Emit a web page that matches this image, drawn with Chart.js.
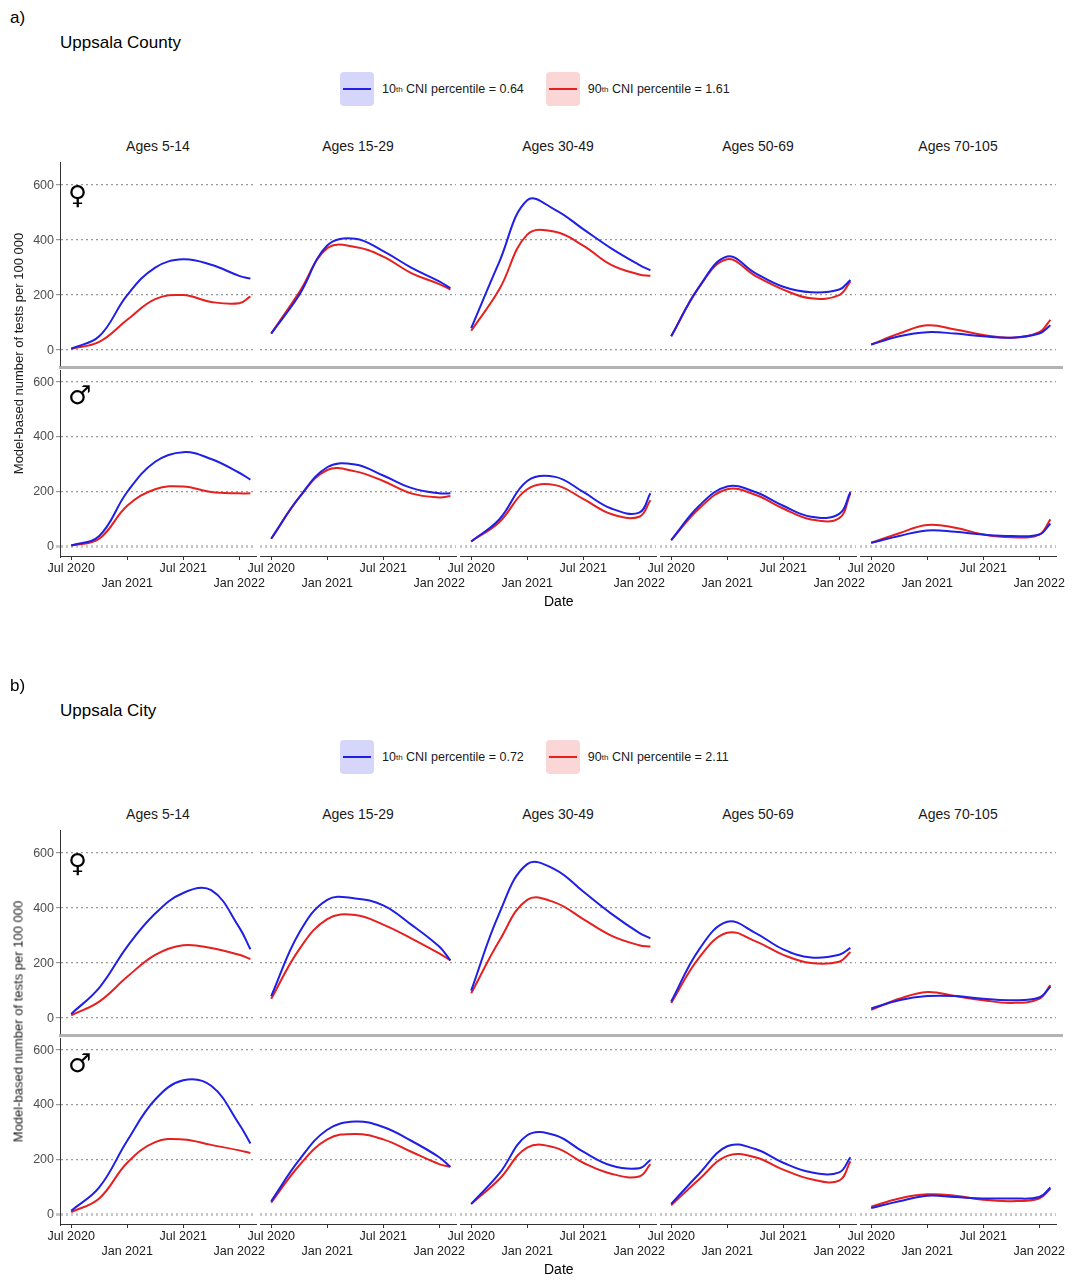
<!DOCTYPE html>
<html><head><meta charset="utf-8">
<script src="https://cdn.jsdelivr.net/npm/chart.js@4.4.0/dist/chart.umd.min.js"></script>
<style>
  body { margin:0; background:#fff; font-family:"Liberation Sans", Arial, sans-serif; }
  #root { position:relative; width:1072px; height:1280px; }
  .abs { position:absolute; white-space:nowrap; }
  .strip { font-size:14px; color:#1a1a1a; text-align:center; width:196px; }
  .leg { font-size:12.5px; color:#1a1a1a; display:flex; align-items:center; }
  .key { width:34px; height:34px; border-radius:4px; position:relative; margin-right:8px; }
  .key i { position:absolute; left:3px; right:3px; top:16px; height:2px; }
  .sep { background:#b3b3b3; height:3px; }
  .ytitle { font-size:13px; color:#1a1a1a; transform:rotate(-90deg); transform-origin:center; }
  canvas { pointer-events:none; }
</style></head>
<body><div id="root"></div>
<script>
(function () {
  'use strict';

  /* ── Data ─────────────────────────────────────────────────────────────── */
  const MONTHS = [0, 3, 6, 9, 12, 15, 18, 19.2];          // months since Jul 2020
  const X_TICKS = [0, 6, 12, 18];
  const X_LABELS = ['Jul 2020', 'Jan 2021', 'Jul 2021', 'Jan 2022'];
  const Y_TICKS = [0, 200, 400, 600];
  const AGES = ['Ages 5-14', 'Ages 15-29', 'Ages 30-49', 'Ages 50-69', 'Ages 70-105'];

  // Panel a – Uppsala County
  const countyFemaleBlue = [
    [5, 50, 200, 300, 330, 310, 270, 260],
    [60, 200, 380, 405, 360, 300, 250, 225],
    [80, 320, 545, 510, 440, 370, 310, 290],
    [50, 230, 340, 280, 230, 210, 220, 255],
    [20, 50, 65, 60, 50, 45, 60, 90]
  ];
  const countyFemaleRed = [
    [5, 30, 110, 185, 200, 175, 170, 195],
    [60, 210, 370, 375, 340, 280, 240, 220],
    [70, 220, 420, 430, 380, 310, 275, 270],
    [50, 230, 330, 270, 220, 188, 200, 250],
    [20, 60, 90, 75, 55, 45, 65, 110]
  ];
  const countyMaleBlue = [
    [5, 40, 200, 310, 345, 320, 270, 245],
    [30, 180, 290, 300, 260, 215, 195, 195],
    [20, 100, 240, 255, 200, 140, 125, 195],
    [25, 150, 220, 200, 150, 110, 120, 200],
    [15, 40, 60, 55, 45, 40, 45, 85]
  ];
  const countyMaleRed = [
    [5, 30, 150, 210, 220, 200, 195, 195],
    [30, 180, 280, 275, 240, 195, 180, 185],
    [20, 90, 210, 225, 175, 120, 110, 170],
    [25, 140, 210, 190, 140, 100, 105, 195],
    [15, 50, 80, 70, 45, 35, 45, 100]
  ];

  // Panel b – Uppsala City
  const cityFemaleBlue = [
    [15, 110, 260, 380, 455, 465, 330, 250],
    [80, 310, 430, 435, 410, 340, 260, 210],
    [100, 380, 560, 540, 460, 380, 310, 290],
    [60, 250, 350, 310, 250, 220, 230, 255],
    [35, 65, 80, 80, 70, 65, 75, 115]
  ];
  const cityFemaleRed = [
    [10, 60, 150, 230, 265, 255, 230, 215],
    [70, 250, 360, 375, 340, 290, 235, 210],
    [90, 280, 430, 420, 360, 300, 265, 260],
    [55, 220, 310, 280, 230, 200, 205, 240],
    [30, 70, 95, 80, 65, 55, 70, 120]
  ];
  const cityMaleBlue = [
    [15, 100, 270, 420, 490, 470, 330, 260],
    [50, 200, 310, 340, 320, 270, 210, 175],
    [40, 150, 290, 290, 230, 180, 170, 200],
    [40, 150, 250, 240, 190, 155, 155, 210],
    [25, 50, 70, 65, 60, 60, 65, 100]
  ];
  const cityMaleRed = [
    [10, 60, 190, 265, 275, 255, 235, 225],
    [45, 180, 275, 295, 275, 230, 185, 175],
    [40, 130, 245, 245, 190, 150, 140, 185],
    [35, 130, 215, 210, 165, 130, 125, 195],
    [30, 60, 75, 70, 55, 50, 60, 95]
  ];

  const BLUE = '#1f1fe6', RED = '#e61f1f';
  const PAD = 34, PADV = 12;   // room for tick labels that overhang the plot area
  const root = document.getElementById('root');

  function el(cls, x, y, html, extra) {
    const d = document.createElement('div');
    d.className = 'abs ' + cls;
    d.style.left = x + 'px'; d.style.top = y + 'px';
    d.innerHTML = html;
    if (extra) Object.assign(d.style, extra);
    root.appendChild(d);
    return d;
  }

  /* ── One facet ────────────────────────────────────────────────────────── */
  function facet(top, row, col, blue, red) {
    const first = col === 0, bottom = row === 1;
    const axW = first ? 40 : 0, axH = bottom ? 44 : 0;
    const areaTop = top + (row === 0 ? 162 : 370);
    const areaH = row === 0 ? 204 : 186;
    const yMin = row === 0 ? -58 : -33, yMax = row === 0 ? 684 : 644;
    const w = PAD + axW + 196 + PAD, h = PADV + areaH + axH + PADV;

    const c = document.createElement('canvas');
    c.width = w; c.height = h;
    c.style.cssText = `position:absolute;left:${60 + col * 200 - axW - PAD}px;top:${areaTop - PADV}px;width:${w}px;height:${h}px`;
    root.appendChild(c);

    const pts = arr => arr.map((v, i) => ({ x: MONTHS[i], y: v }));
    new Chart(c.getContext('2d'), {
      type: 'line',
      data: { datasets: [
        { data: pts(blue), borderColor: BLUE, borderWidth: 2, pointRadius: 0, tension: 0.4 },
        { data: pts(red),  borderColor: RED,  borderWidth: 2, pointRadius: 0, tension: 0.4 }
      ] },
      options: {
        responsive: false, animation: false, devicePixelRatio: 1,
        layout: { padding: { left: PAD, right: PAD, top: PADV, bottom: PADV } },
        plugins: { legend: { display: false }, tooltip: { enabled: false } },
        scales: {
          x: {
            type: 'linear', min: -1.2, max: 19.8,
            display: bottom,
            afterBuildTicks: s => { s.ticks = X_TICKS.map(v => ({ value: v })); },
            afterFit: s => { s.height = axH; },
            grid: { display: true, drawOnChartArea: false, tickLength: 4, color: '#333' },
            border: { display: true, color: '#333' },
            ticks: {
              autoSkip: false, maxRotation: 0, padding: 1, color: '#1a1a1a',
              font: { size: 12.5, family: 'Liberation Sans' },
              callback: v => { const i = X_TICKS.indexOf(v); return i % 2 === 0 ? X_LABELS[i] : ['', X_LABELS[i]]; }
            }
          },
          y: {
            min: yMin, max: yMax,
            afterBuildTicks: s => { s.ticks = Y_TICKS.map(v => ({ value: v })); },
            afterFit: s => { s.width = axW; },
            grid: {
              drawTicks: first, tickLength: 4,
              color: ctx => (bottom && ctx.tick && ctx.tick.value === 0) ? '#c8c8c8' : '#999999',
              lineWidth: ctx => (bottom && ctx.tick && ctx.tick.value === 0) ? 3 : 1.2
            },
            border: { display: first, color: '#333', dash: [2, 3] },
            ticks: { display: first, color: '#4d4d4d', padding: 2, font: { size: 12.5, family: 'Liberation Sans' } }
          }
        }
      }
    });
  }

  /* ── One panel ────────────────────────────────────────────────────────── */
  function panel(top, letter, title, lo, hi, fb, fr, mb, mr) {
    el('', 10, top + 8, letter, { fontSize: '17px' });
    el('', 60, top + 33, title, { fontSize: '17px' });
    el('leg', 340, top + 72,
      `<div class="key" style="background:#d6d6fb"><i style="background:${BLUE}"></i></div>10<sup style="font-size:8px">th</sup>&nbsp;CNI percentile = ${lo}` +
      `<div class="key" style="background:#fbd6d6;margin-left:22px"><i style="background:${RED}"></i></div>90<sup style="font-size:8px">th</sup>&nbsp;CNI percentile = ${hi}`);
    AGES.forEach((a, i) => el('strip', 60 + i * 200, top + 138, a));
    el('sep', 59, top + 366, '', { width: '1004px' });
    for (let col = 0; col < 5; col++) {
      facet(top, 0, col, fb[col], fr[col]);
      facet(top, 1, col, mb[col], mr[col]);
    }
    el('', 68, top + 180, '♀', { fontSize: '26px', fontFamily: 'DejaVu Sans' });
    el('', 68, top + 380, '♂', { fontSize: '26px', fontFamily: 'DejaVu Sans' });
    el('ytitle', -127, top + 346, 'Model-based number of tests per 100 000', { width: '290px', textAlign: 'center' });
    el('', 544, top + 593, 'Date', { fontSize: '14px' });
  }

  function boot() {
    panel(0, 'a)', 'Uppsala County', '0.64', '1.61', countyFemaleBlue, countyFemaleRed, countyMaleBlue, countyMaleRed);
    panel(668, 'b)', 'Uppsala City', '0.72', '2.11', cityFemaleBlue, cityFemaleRed, cityMaleBlue, cityMaleRed);
  }
  boot();
})();
</script></body></html>
